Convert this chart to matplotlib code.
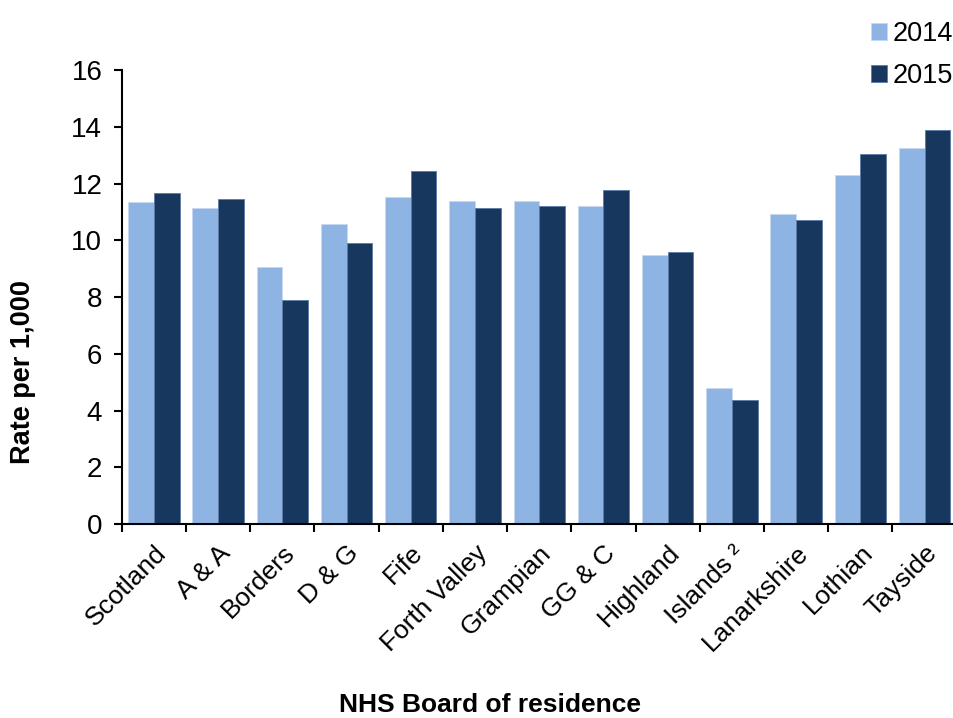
import matplotlib
matplotlib.use("Agg")
import matplotlib.pyplot as plt
import numpy as np

plt.rcParams['font.family'] = ['Liberation Sans', 'DejaVu Sans']

categories = ["Scotland", "A & A", "Borders", "D & G", "Fife", "Forth Valley",
              "Grampian", "GG & C", "Highland", "Islands ²", "Lanarkshire",
              "Lothian", "Tayside"]
rate_2014 = [11.35, 11.13, 9.04, 10.59, 11.54, 11.40, 11.40, 11.22, 9.49, 4.78, 10.91, 12.31, 13.26]
rate_2015 = [11.67, 11.45, 7.90, 9.90, 12.45, 11.13, 11.22, 11.77, 9.59, 4.37, 10.73, 13.04, 13.90]
y_ticks = [0, 2, 4, 6, 8, 10, 12, 14, 16]

c14 = '#8eb4e3'
c15 = '#17375e'

fig = plt.figure(figsize=(9.54, 7.18), dpi=100)
ax = fig.add_axes([121.7/954, 194/718, 835/954, 454/718])

x = np.arange(len(categories))
w = 0.4
b1 = ax.bar(x - w/2, rate_2014, w, color=c14, edgecolor='#c6d9f1', linewidth=0.6, label='2014')
b2 = ax.bar(x + w/2, rate_2015, w, color=c15, edgecolor='#5a7aa6', linewidth=0.6, label='2015')

ax.set_xlim(-0.5, len(categories) - 0.5)
ax.set_ylim(0, 16)
ax.set_yticks(y_ticks)
ax.set_yticklabels([str(v) for v in y_ticks], fontsize=20)
ax.set_xticks(np.arange(len(categories) + 1) - 0.5)
ax.set_xticklabels([])
ax.set_xticks(x, minor=True)
ax.set_xticklabels(categories, minor=True, rotation=45, ha='right',
                   rotation_mode='anchor', fontsize=19)
ax.tick_params(axis='x', which='minor', length=0, pad=12)
ax.tick_params(axis='x', which='major', length=6, width=1.5, direction='out')
ax.tick_params(axis='y', length=6, width=1.5, direction='out', pad=8)

for s in ['top', 'right']:
    ax.spines[s].set_visible(False)
for s in ['left', 'bottom']:
    ax.spines[s].set_linewidth(1.5)

fig.text(23/954, 1 - 372/718, 'Rate per 1,000', fontsize=19.5, fontweight='bold',
         rotation=90, ha='center', va='center')
fig.text(490/954, 1 - 705/718, 'NHS Board of residence', fontsize=19,
         fontweight='bold', ha='center', va='center')

leg = fig.legend(handles=[b1, b2], labels=['2014', '2015'], loc='upper left',
                 bbox_to_anchor=(871/954, 1 - 21/718), frameon=False, fontsize=19.5,
                 handlelength=0.6, handleheight=0.6, handletextpad=0.2,
                 labelspacing=0.6, borderaxespad=0, borderpad=0)

fig.savefig('out.png', dpi=100)
